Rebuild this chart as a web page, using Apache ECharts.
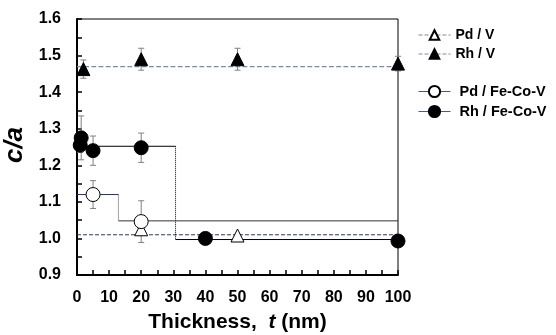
<!DOCTYPE html>
<html>
<head>
<meta charset="utf-8">
<script src="https://cdn.jsdelivr.net/npm/echarts@6/dist/echarts.min.js"></script>
<style>html,body{margin:0;padding:0;background:#fff}#c{width:556px;height:335px}</style>
</head>
<body>
<div id="c"></div>
<script>
// ---- data ----
var xTicks = [0, 10, 20, 30, 40, 50, 60, 70, 80, 90, 100];
var yTicks = [0.9, 1.0, 1.1, 1.2, 1.3, 1.4, 1.5, 1.6];

var pdV_x = [20, 50];
var pdV_y = [1.025, 1.008];

var rhV_x = [2, 20, 50, 100];
var rhV_y = [1.463, 1.49, 1.49, 1.478];
var rhV_err = [0.025, 0.03, 0.03, 0.02];

var pdF_x = [5, 20];
var pdF_y = [1.12, 1.046];
var pdF_err = [0.038, 0.057];

var rhF_x = [1, 1.3, 5, 20, 40, 100];
var rhF_y = [1.255, 1.275, 1.24, 1.248, 1.0, 0.993];
var rhF_err = [0.02, 0.06, 0.04, 0.04, 0.015, 0.01];

// fit lines
var rhV_fit = [[0, 1.47], [100, 1.47]];
var pdV_fit = [[0, 1.01], [100, 1.01]];
var rhF_hi = [[0, 1.252], [30.7, 1.252]];
var rhF_drop = [[30.7, 1.252], [30.7, 0.997]];
var rhF_lo = [[30.7, 0.997], [100, 0.997]];
var pdF_hi = [[0, 1.12], [12.9, 1.12]];
var pdF_drop = [[12.9, 1.12], [12.9, 1.048]];
var pdF_lo = [[12.9, 1.048], [100, 1.048]];

function zip(xs, ys) { return xs.map(function (x, i) { return [x, ys[i]]; }); }
function errData(xs, ys, es) { return xs.map(function (x, i) { return [x, ys[i] - es[i], ys[i] + es[i]]; }); }

function errSeries(data) {
  return {
    type: 'custom', silent: true, z: 1,
    renderItem: function (params, api) {
      var lo = api.coord([api.value(0), api.value(1)]);
      var hi = api.coord([api.value(0), api.value(2)]);
      var st = { stroke: '#808080', lineWidth: 1 };
      return { type: 'group', children: [
        { type: 'line', shape: { x1: lo[0], y1: lo[1], x2: hi[0], y2: hi[1] }, style: st },
        { type: 'line', shape: { x1: lo[0] - 3, y1: lo[1], x2: lo[0] + 3, y2: lo[1] }, style: st },
        { type: 'line', shape: { x1: hi[0] - 3, y1: hi[1], x2: hi[0] + 3, y2: hi[1] }, style: st }
      ]};
    },
    encode: { x: 0, y: [1, 2] },
    data: data
  };
}
function fitLine(data, color, type, width) {
  return { type: 'line', data: data, symbol: 'none', silent: true, z: 2,
    lineStyle: { color: color, type: type, width: width || 1 } };
}
function markSeries(name, data, symbol, size, filled) {
  return { name: name, type: 'line', data: data, symbol: symbol, symbolSize: size, showSymbol: true,
    z: 5, lineStyle: { opacity: 0, width: 0 },
    itemStyle: { color: filled ? '#000' : '#fff', borderColor: '#000', borderWidth: 1, opacity: 1 } };
}

var font = 'Arial, "Liberation Sans", sans-serif';
var chart = echarts.init(document.getElementById('c'), null, { renderer: 'canvas' });
chart.setOption({
  animation: false,
  backgroundColor: '#fff',
  grid: { left: 77, top: 19, right: 158, bottom: 60, show: true, borderColor: '#000', borderWidth: 1,
    containLabel: false, outerBoundsMode: 'none' },
  legend: [
    { data: [
        { name: 'Pd / V', lineStyle: { opacity: 1, width: 1, type: 'dashed', color: '#7a8aa8' } },
        { name: 'Rh / V', lineStyle: { opacity: 1, width: 1, type: 'dashed', color: '#7a8aa8' } }
      ],
      orient: 'vertical', left: 413, top: 23, itemWidth: 32, itemHeight: 12, itemGap: 5,
      textStyle: { fontFamily: font, fontWeight: 'bold', fontSize: 14, color: '#000' } },
    { data: [
        { name: 'Pd / Fe-Co-V', lineStyle: { opacity: 1, width: 1, type: 'solid', color: '#4a5a78' } },
        { name: 'Rh / Fe-Co-V', lineStyle: { opacity: 1, width: 1, type: 'solid', color: '#4a5a78' } }
      ],
      orient: 'vertical', left: 413, top: 79, itemWidth: 32, itemHeight: 14, itemGap: 5,
      textStyle: { fontFamily: font, fontWeight: 'bold', fontSize: 14.5, color: '#000', padding: [0, 0, 0, 4] } }
  ],
  xAxis: {
    type: 'value', min: 0, max: 100, interval: 10,
    name: '{b|Thickness,  }{i|t}{b| (nm)}', nameLocation: 'middle', nameGap: 37,
    nameTextStyle: { rich: {
      b: { fontFamily: font, fontWeight: 'bold', fontSize: 21, color: '#000' },
      i: { fontFamily: font, fontWeight: 'bold', fontStyle: 'italic', fontSize: 21, color: '#000' } } },
    axisLine: { lineStyle: { color: '#000', width: 2 } },
    axisTick: { inside: true, length: 5, lineStyle: { color: '#000', width: 1.5 } },
    minorTick: { show: true, splitNumber: 2, length: 5, lineStyle: { color: '#000', width: 1.5 } },
    splitLine: { show: false },
    axisLabel: { margin: 15, fontFamily: font, fontWeight: 'bold', fontSize: 16, color: '#000',
      formatter: function (v) { return xTicks.indexOf(v) >= 0 ? String(v) : ''; } }
  },
  yAxis: {
    type: 'value', min: 0.9, max: 1.6, interval: 0.1,
    name: 'c/a', nameLocation: 'middle', nameGap: 30, nameRotate: 90,
    nameTextStyle: { fontFamily: font, fontWeight: 'bold', fontStyle: 'italic', fontSize: 26, color: '#000', padding: [0, 0, 0, 4] },
    axisLine: { lineStyle: { color: '#000', width: 2 } },
    axisTick: { inside: true, length: 5, lineStyle: { color: '#000', width: 1.5 } },
    minorTick: { show: true, splitNumber: 2, length: 5, lineStyle: { color: '#000', width: 1.5 } },
    splitLine: { show: false },
    axisLabel: { margin: 16, fontFamily: font, fontWeight: 'bold', fontSize: 16, color: '#000',
      formatter: function (v) { return v.toFixed(1); } }
  },
  series: [
    fitLine(rhV_fit, '#7a8aa8', 'dashed', 1.2),
    fitLine(pdV_fit, '#2a3a66', 'dashed', 1),
    fitLine(rhF_hi, '#000', 'solid', 1),
    fitLine(rhF_drop, '#000', 'dotted', 1),
    fitLine(rhF_lo, '#000', 'solid', 1),
    fitLine(pdF_hi, '#1f3468', 'solid', 1),
    fitLine(pdF_drop, '#444', 'dotted', 1),
    fitLine(pdF_lo, '#333', 'solid', 1),
    errSeries(errData(rhV_x, rhV_y, rhV_err)),
    errSeries(errData(pdF_x, pdF_y, pdF_err)),
    errSeries(errData(rhF_x, rhF_y, rhF_err)),
    markSeries('Pd / V', zip(pdV_x, pdV_y), 'triangle', 13, false),
    markSeries('Rh / V', zip(rhV_x, rhV_y), 'triangle', 13, true),
    markSeries('Pd / Fe-Co-V', zip(pdF_x, pdF_y), 'circle', 14, false),
    markSeries('Rh / Fe-Co-V', zip(rhF_x, rhF_y), 'circle', 14, true)
  ]
});
</script>
</body>
</html>
